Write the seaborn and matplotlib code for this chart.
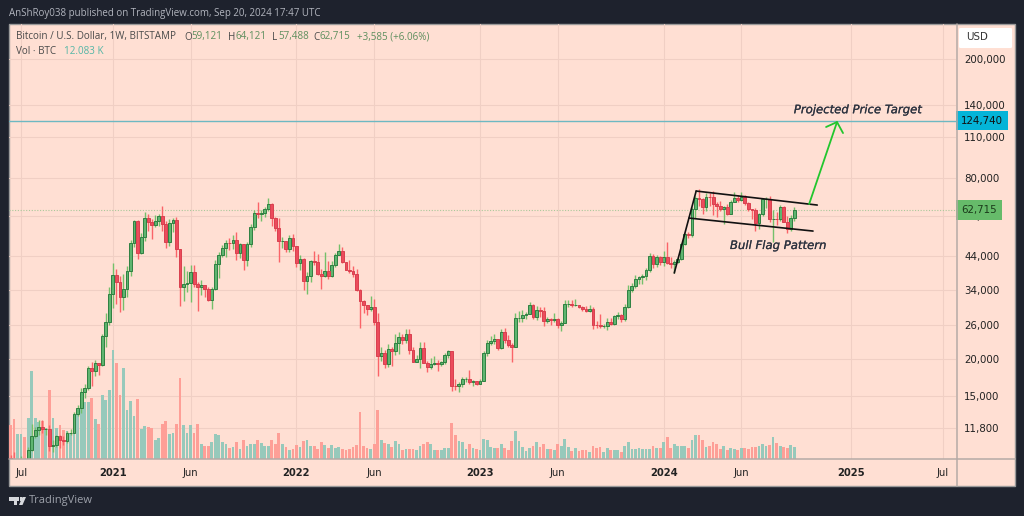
import matplotlib
matplotlib.use("Agg")
import matplotlib.pyplot as plt
import matplotlib.patheffects as pe
from matplotlib.lines import Line2D
from matplotlib.patches import Rectangle, Polygon, FancyBboxPatch
from matplotlib.transforms import blended_transform_factory
import seaborn as sns
import numpy as np
import pandas as pd

# weekly candles from the week of Jun 8 2020 (index 0)
closes = [9380, 9300, 9000, 9070, 9240, 9160, 9950, 11060, 11560, 11850,
          11650, 11700, 10280, 10330, 11080, 10780, 10670, 11300, 11370, 13120,
          13760, 15480, 16060, 18680, 18180, 19370, 19170, 23800, 26500, 33000,
          38200, 36000, 32100, 34300, 39200, 48600, 57500, 45200, 50900, 59000,
          57400, 55800, 57900, 59800, 56200, 49100, 56600, 58200, 46400, 34700,
          35600, 35800, 39000, 35600, 34700, 35300, 34300, 31500, 34300, 41500,
          44600, 47000, 48900, 48800, 50000, 45000, 48300, 42700, 48200, 54900,
          61500, 60900, 61300, 63300, 65500, 59000, 54700, 49300, 49350, 46700,
          50800, 47700, 41800, 43000, 36300, 37900, 42400, 42100, 38400, 37700,
          39400, 37800, 41300, 44500, 45800, 42150, 39700, 39400, 38500, 34000,
          31300, 30300, 29400, 29900, 26500, 20500, 21000, 19300, 21600, 21200,
          22600, 23600, 23200, 24300, 21500, 19600, 20000, 21800, 19400, 18800,
          19300, 19400, 19200, 19600, 20600, 21300, 16300, 16280, 16450, 17100,
          17105, 16750, 16840, 16550, 16950, 20900, 22700, 23000, 23300, 21800,
          24600, 23200, 22350, 21950, 27400, 27500, 28000, 28300, 30300, 27600,
          29200, 28900, 26800, 27100, 26900, 27100, 25900, 26300, 30500, 30550,
          30300, 30350, 29800, 29300, 29000, 29300, 26000, 25950, 25800, 25850,
          26500, 26200, 27900, 27950, 27100, 29900, 34000, 35000, 37000, 37400,
          37700, 39500, 44000, 41400, 43700, 42200, 43900, 41700, 41600, 42100,
          43000, 48300, 52100, 51700, 63100, 68900, 68300, 64000, 69600, 69300,
          65600, 64900, 63100, 64000, 60800, 66900, 69000, 67700, 69300, 66200,
          63200, 62700, 56700, 60800, 68200, 68250, 58700, 58730, 58500, 64200,
          57300, 54100, 59121, 62715]
highs = [10000, 9590, 9800, 9310, 9470, 9320, 10150, 12100, 11900, 12490,
         12490, 11780, 12090, 10780, 11190, 11190, 11040, 11490, 11730, 13350,
         14100, 15980, 16490, 18950, 19500, 19900, 19420, 24300, 28400, 34800,
         41950, 40000, 37800, 38500, 40900, 49700, 58350, 58000, 52600, 61800,
         61000, 58400, 60200, 61000, 64900, 57500, 58400, 59000, 59600, 46700,
         40900, 39400, 41300, 41300, 36000, 36600, 35400, 34700, 34800, 42600,
         45300, 48100, 49800, 50500, 52000, 52900, 48800, 47900, 49200, 56500,
         62900, 67000, 63000, 64300, 69000, 66400, 59400, 59100, 51000, 49500,
         51900, 52100, 47600, 44500, 43500, 38900, 42700, 45800, 44700, 40000,
         45400, 42500, 42400, 45100, 48200, 47200, 41600, 42900, 40700, 40000,
         34300, 31400, 30300, 32400, 31700, 28500, 22000, 21500, 22400, 21900,
         24300, 24600, 24200, 25200, 25200, 22000, 20600, 22800, 22800, 19700,
         20200, 20450, 19900, 19700, 21000, 21500, 21000, 17200, 16800, 17400,
         17420, 18400, 17000, 16950, 17200, 21300, 23100, 23800, 24300, 23400,
         25200, 25300, 24000, 22600, 28400, 29000, 29100, 28800, 30950, 30500,
         30000, 29800, 29700, 27600, 27500, 28400, 27400, 26800, 31400, 31400,
         31500, 31800, 30350, 30000, 30050, 30200, 29700, 26800, 28150, 26100,
         27450, 27400, 28050, 28600, 28300, 30400, 35300, 35950, 38000, 37950,
         38400, 40200, 45000, 44700, 44300, 44000, 45800, 49000, 43600, 42800,
         43900, 48600, 52800, 53000, 64000, 70000, 73800, 68900, 71600, 71300,
         72800, 66900, 67200, 64700, 65500, 67700, 71900, 70600, 71800, 70200,
         67000, 63400, 63800, 61400, 68400, 69400, 70000, 62700, 61800, 65000,
         64500, 59800, 60600, 64121]
lows = [9050, 8900, 8830, 8900, 9040, 8920, 9100, 9900, 10900, 11150,
        11300, 11120, 9880, 9820, 10200, 10130, 10370, 10520, 11180, 11400,
        12870, 13200, 14840, 15800, 16200, 17600, 17640, 19000, 21900, 26000,
        29500, 30400, 28800, 29200, 32300, 37900, 47100, 43000, 44900, 49300,
        53500, 50400, 55000, 55500, 53300, 47000, 47500, 52900, 43900, 30000,
        31100, 33400, 31000, 34700, 28900, 32700, 32100, 31100, 29300, 34000,
        37300, 43800, 43900, 46300, 46500, 42800, 43400, 39600, 40800, 47100,
        53900, 58900, 57800, 59500, 62300, 55600, 53500, 42000, 46800, 45500,
        45500, 45800, 40500, 39700, 34000, 32900, 36200, 41100, 38000, 34300,
        37500, 37100, 37600, 40500, 44600, 41900, 39500, 38600, 37600, 33600,
        25400, 28500, 28000, 28900, 26000, 17600, 19700, 18650, 18800, 18900,
        20700, 20750, 22500, 22700, 20800, 19500, 19550, 18600, 19350, 18150,
        18500, 19100, 18200, 18950, 19300, 20100, 15600, 15800, 15500, 16100,
        16700, 16500, 16300, 16350, 16500, 17300, 20400, 22300, 22500, 21400,
        21600, 22700, 21900, 19500, 21900, 26600, 26500, 27200, 28200, 27100,
        26950, 27700, 25800, 26400, 25900, 26600, 25400, 24800, 26300, 29900,
        29700, 29950, 29500, 28900, 28600, 28750, 25150, 25400, 25300, 25400,
        24900, 26000, 26000, 27200, 26550, 26800, 29500, 33400, 34500, 35500,
        35600, 36800, 39000, 40200, 40500, 41300, 40700, 41500, 40300, 38600,
        41900, 42700, 47800, 50600, 50900, 59000, 64500, 60800, 62400, 64500,
        60200, 59700, 62400, 56500, 60200, 60700, 66700, 66600, 67200, 65100,
        62300, 58400, 53500, 54300, 59800, 63500, 57200, 49100, 56100, 57800,
        57200, 52500, 53600, 57488]
first_open = 9500

# volume in thousands of BTC
volumes = [30, 34, 40, 25, 25, 22, 41, 88, 41, 37, 38, 31, 69, 41, 31, 34, 29, 28, 26, 44,
           49, 59, 57, 57, 61, 40, 35, 64, 59, 69, 109, 96, 64, 91, 49, 58, 43, 60, 30, 33,
           32, 31, 19, 21, 35, 38, 25, 26, 35, 81, 34, 26, 34, 26, 35, 15, 13, 13, 17, 25,
           24, 17, 15, 11, 12, 17, 10, 19, 13, 15, 15, 19, 16, 13, 13, 19, 15, 26, 15, 12,
           9, 10, 14, 12, 18, 19, 13, 13, 10, 17, 14, 11, 14, 11, 12, 10, 9, 10, 12, 14,
           47, 13, 11, 10, 15, 49, 19, 16, 15, 12, 18, 15, 9, 10, 10, 10, 9, 13, 15, 17,
           15, 9, 9, 9, 11, 11, 36, 24, 18, 17, 10, 15, 11, 10, 9, 20, 19, 12, 11, 11,
           15, 11, 9, 18, 28, 18, 12, 8, 11, 13, 17, 12, 15, 10, 10, 9, 15, 13, 20, 12,
           8, 11, 8, 9, 9, 7, 13, 11, 12, 7, 11, 9, 9, 9, 7, 13, 17, 10, 10, 11,
           10, 10, 10, 13, 11, 11, 17, 22, 11, 15, 13, 13, 13, 11, 19, 24, 24, 19, 12, 13,
           17, 15, 10, 13, 9, 11, 10, 9, 11, 11, 10, 12, 12, 13, 15, 13, 14, 22, 16, 13,
           12, 11, 14, 12.083]

price_ticks = [200000, 140000, 110000, 80000, 60000, 44000, 34000, 26000, 20000, 15000, 11800]
time_ticks = [4, 30, 52, 82, 104, 134, 156, 186, 208, 239, 265]
time_labels = ["Jul", "2021", "Jun", "2022", "Jun", "2023", "Jun", "2024", "Jun", "2025", "Jul"]
target_price = 124740
last_price = 62715

# drawings: (week index, price)
pole = [(189, 38700), (195.2, 72600)]
flag_top = [(195.2, 72600), (229.5, 65200)]
flag_bottom = [(193.2, 59000), (228.3, 53400)]
arrow_line = [(227.2, 65700), (235.1, 123300)]
arrow_head = [(232, 118700), (235.1, 123300), (236.8, 113300)]

W, H = 1024, 516
DARK = "#1e222d"
PANEL = "#ffdfd3"
GRID = "#f0cfc4"
AXIS = "#b5aaa6"
TEXT = "#4a4a4a"
UP_VAL = "#5e8f5e"
UI_FONT = "Open Sans"
df = pd.DataFrame({"week": np.arange(len(closes)), "close": closes, "high": highs, "low": lows, "vol": volumes})
df["open"] = df["close"].shift(1).fillna(first_open)
df["dir"] = np.where(df["close"] >= df["open"], "up", "down")

sns.set_theme(style="white")
plt.rcParams["font.family"] = ["DejaVu Sans"]


def fx(x):
    return x / W


def fy(y):
    return 1 - y / H


fig = plt.figure(figsize=(W / 100, H / 100), dpi=100, facecolor=DARK)
fig.add_artist(Rectangle((fx(9), fy(486)), fx(1006), 462 / H, transform=fig.transFigure,
                         fc=PANEL, ec="#9a9a9a", lw=1, zorder=-1))
rect = [fx(9), fy(459), fx(947), 435 / H]

# grid and tick labels live on the bottom axes
base = fig.add_axes(rect, zorder=1)
base.patch.set_visible(False)
base.set_yscale("log")
base.set_xlim(0.57, 268.8)
base.set_ylim(9283, 261700)
base.set_yticks(price_ticks)
base.set_yticklabels([f"{p:,}" for p in price_ticks], fontsize=7.4, color="#222222")
base.minorticks_off()
base.yaxis.tick_right()
base.tick_params(axis="y", length=0, pad=6, which="both")
base.set_xticks(time_ticks)
base.set_xticklabels(time_labels, fontsize=7.2, color="#222222")
for lab in base.get_xticklabels():
    if lab.get_text().isdigit():
        lab.set_fontweight("bold")
base.tick_params(axis="x", length=0, pad=6.5)
base.grid(True, color=GRID, lw=0.8)
for s in base.spines.values():
    s.set_visible(False)

# volume bars
vol_ax = fig.add_axes(rect, zorder=2, sharex=base)
vol_ax.patch.set_visible(False)
sns.barplot(data=df, x="week", y="vol", hue="dir", native_scale=True, dodge=False, width=0.78,
            palette={"up": "#97c9bb", "down": "#fe9f97"}, saturation=1, errorbar=None,
            legend=False, linewidth=0, edgecolor="none", ax=vol_ax)
vol_ax.set_ylim(0, 435)
vol_ax.set_xlim(0.57, 268.8)
vol_ax.axis("off")

# candles
ax = fig.add_axes(rect, zorder=3, sharex=base, sharey=base)
ax.patch.set_visible(False)
for d, wick, fill, edge in [("up", "#74c06a", "#5fb570", "#2f8042"), ("down", "#fa6468", "#ec4c5c", "#d9404f")]:
    sub = df[df["dir"] == d]
    ax.vlines(sub["week"], sub["low"], sub["high"], color=wick, lw=1, zorder=2)
    ax.bar(sub["week"], (sub["close"] - sub["open"]).abs(), bottom=sub[["open", "close"]].min(axis=1),
           width=0.8, fc=fill, ec=edge, lw=0.7, zorder=3)

ax.axhline(target_price, color="#6db8c2", lw=1, zorder=4)
ax.axhline(last_price, color="#a9c99a", lw=0.8, ls=(0, (1, 1.5)), zorder=1)

for seg in (pole, flag_top, flag_bottom):
    xs, ys = zip(*seg)
    ax.plot(xs, ys, color="#111111", lw=1.2, zorder=5, solid_capstyle="round")
for seg in (arrow_line, arrow_head):
    xs, ys = zip(*seg)
    ax.plot(xs, ys, color="#22c62e", lw=1.3, zorder=5)

stroke = [pe.withStroke(linewidth=0.15, foreground="#2d3340")]
ax.text(240.9, 135500, "Projected Price Target", fontsize=8.4, style="italic", color="#2d3340",
        ha="center", va="center", zorder=6, path_effects=stroke)
ax.text(218.4, 47800, "Bull Flag Pattern", fontsize=8.4, style="italic", color="#2d3340",
        ha="center", va="center", zorder=6, path_effects=stroke)
ax.axis("off")

# price tags on the axis
trans = blended_transform_factory(fig.transFigure, ax.transData)
ax.text(fx(961), target_price, f"{target_price:,}", transform=trans, fontsize=7.4, color="#111111",
        va="center", ha="left", zorder=8, clip_on=False,
        bbox=dict(boxstyle="square,pad=0.45", fc="#04b4d8", ec="none"))
ax.text(fx(961), last_price, f"{last_price:,}", transform=trans, fontsize=7.4, color="#1b3a1b",
        va="center", ha="left", zorder=8, clip_on=False,
        bbox=dict(boxstyle="square,pad=0.5", fc="#66bb6a", ec="none"))

# axis lines past the plot area
fig.add_artist(Line2D([fx(956.5), fx(956.5)], [fy(24), fy(486)], color=AXIS, lw=1.1, zorder=5))
fig.add_artist(Line2D([fx(9), fx(1015)], [fy(459), fy(459)], color=AXIS, lw=1.1, zorder=5))

# USD box
fig.add_artist(FancyBboxPatch((fx(961), fy(47)), fx(49), 18 / H, transform=fig.transFigure,
                              boxstyle="round,pad=0.002", fc="white", ec="none", zorder=6))
fig.text(fx(966), fy(37.5), "USD", fontsize=7.4, color="#333333", va="center", zorder=7)

# header and legend
fig.text(fx(9), fy(13.5), "AnShRoy038 published on TradingView.com, Sep 20, 2024 17:47 UTC",
         fontsize=7.0, color="#b2b5be", va="center", family=UI_FONT)
legend_bits = [(16, "Bitcoin / U.S. Dollar, 1W, BITSTAMP", TEXT), (184, "O", TEXT), (191, "59,121", UP_VAL),
               (228, "H", TEXT), (235, "64,121", UP_VAL), (272, "L", TEXT), (278, "57,488", UP_VAL),
               (313, "C", TEXT), (320, "62,715", UP_VAL), (357, "+3,585 (+6.06%)", UP_VAL)]
for x, s, c in legend_bits:
    fig.text(fx(x), fy(37), s, fontsize=7.1, color=c, va="center", zorder=7, family=UI_FONT)
fig.text(fx(16), fy(51), "Vol · BTC", fontsize=7.1, color=TEXT, va="center", zorder=7, family=UI_FONT)
fig.text(fx(64), fy(51), "12.083 K", fontsize=7.1, color="#54b6a6", va="center", zorder=7, family=UI_FONT)

# logo
for pts in ([(9, 497), (19, 497), (19, 500.5), (17, 500.5), (17, 505), (13.5, 505), (13.5, 500.5), (9, 500.5)],
            [(19, 505), (22.5, 497), (26, 497), (22.5, 505)]):
    fig.add_artist(Polygon([(fx(x), fy(y)) for x, y in pts], closed=True, transform=fig.transFigure,
                           fc="#d6d8dc", ec="none", zorder=6))
fig.add_artist(Rectangle((fx(19.5), fy(500.5)), fx(2.5), 3.5 / H, transform=fig.transFigure,
                         fc="#d6d8dc", ec="none", zorder=6))
fig.text(fx(29), fy(501), "TradingView", fontsize=8, color="#9da1aa", va="center", family=UI_FONT)

fig.savefig("out.png", dpi=100, facecolor=DARK)
